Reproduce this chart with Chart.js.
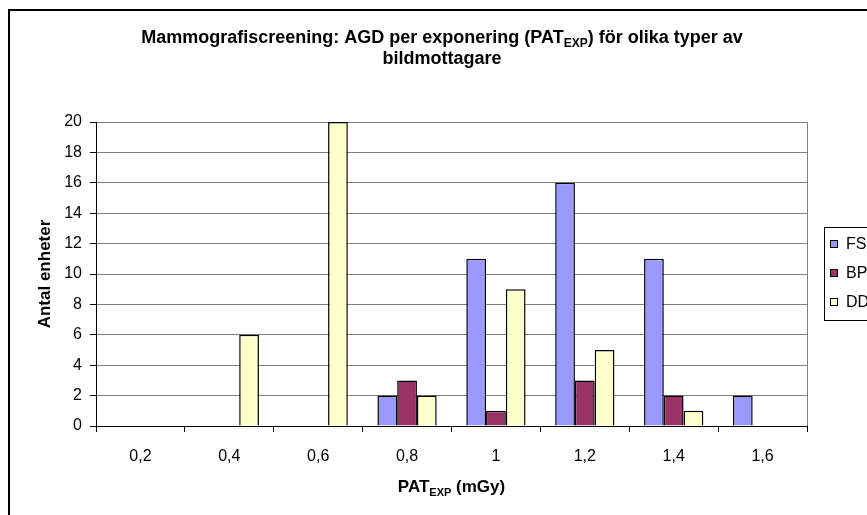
<!DOCTYPE html>
<html>
<head>
<meta charset="utf-8">
<script src="https://cdn.jsdelivr.net/npm/chart.js@4/dist/chart.umd.min.js"></script>
<style>
  html, body { margin: 0; padding: 0; background: #fff; overflow: hidden; }
  #wrap { width: 867px; height: 515px; position: relative; }
</style>
</head>
<body>
<div id="wrap"><canvas id="c" width="867" height="515"></canvas></div>
<script>
// Dose bins (mGy), Swedish decimal comma
const categories = ['0,2', '0,4', '0,6', '0,8', '1', '1,2', '1,4', '1,6'];
// Number of units per image receptor type
const seriesFS = [0, 0, 0, 2, 11, 16, 11, 2];
const seriesBP = [0, 0, 0, 3, 1, 3, 2, 0];
const seriesDD = [0, 6, 20, 2, 9, 5, 1, 0];
const seriesLabels = ['FS', 'BP', 'DD'];
const yTicks = [0, 2, 4, 6, 8, 10, 12, 14, 16, 18, 20];

const FAMILY = "'Liberation Sans', Arial, Helvetica, sans-serif";

// Draw a sequence of text runs (for subscripts), centered at cx
function drawRuns(ctx, runs, cx, y, sx) {
  let total = 0;
  runs.forEach(r => {
    ctx.font = (r.bold ? 'bold ' : '') + r.size + 'px ' + FAMILY;
    r.w = ctx.measureText(r.text).width * sx;
    total += r.w;
  });
  let x = cx - total / 2;
  runs.forEach(r => {
    ctx.save();
    ctx.font = (r.bold ? 'bold ' : '') + r.size + 'px ' + FAMILY;
    ctx.translate(x, y + (r.dy || 0));
    ctx.scale(sx, 1);
    ctx.textAlign = 'left';
    ctx.textBaseline = 'alphabetic';
    ctx.fillStyle = '#000';
    ctx.fillText(r.text, 0, 0);
    ctx.restore();
    x += r.w;
  });
}

const decor = {
  id: 'decor',
  beforeDraw(chart) {
    const ctx = chart.ctx;
    ctx.save();
    ctx.fillStyle = '#fff';
    ctx.fillRect(0, 0, chart.width, chart.height);
    // outer chart frame
    ctx.strokeStyle = '#000';
    ctx.lineWidth = 2;
    ctx.strokeRect(9, 10, 1000, 1000);
    ctx.restore();
  },
  afterDraw(chart) {
    const ctx = chart.ctx;
    const a = chart.chartArea;
    ctx.save();
    // plot area right edge
    ctx.strokeStyle = '#808080';
    ctx.lineWidth = 1;
    ctx.beginPath();
    ctx.moveTo(Math.round(a.right) + 0.5, a.top);
    ctx.lineTo(Math.round(a.right) + 0.5, a.bottom);
    ctx.stroke();

    // title
    const T = 18, S = 12;
    drawRuns(ctx, [
      { text: 'Mammografiscreening: AGD per exponering (PAT', size: T, bold: true },
      { text: 'EXP', size: S, bold: true, dy: 4 },
      { text: ') för olika typer av', size: T, bold: true }
    ], 442, 43, 1);
    drawRuns(ctx, [{ text: 'bildmottagare', size: T, bold: true }], 442, 64, 1);

    // x axis title
    drawRuns(ctx, [
      { text: 'PAT', size: 17, bold: true },
      { text: 'EXP', size: 11, bold: true, dy: 4 },
      { text: ' (mGy)', size: 17, bold: true }
    ], (a.left + a.right) / 2, 492, 1);

    // y axis title
    ctx.save();
    ctx.translate(50, (a.top + a.bottom) / 2);
    ctx.rotate(-Math.PI / 2);
    drawRuns(ctx, [{ text: 'Antal enheter', size: 17, bold: true }], 0, 0, 1);
    ctx.restore();

    // legend
    const lx = 824, ly = 227, lh = 93;
    ctx.fillStyle = '#fff';
    ctx.fillRect(lx, ly, 100, lh);
    ctx.strokeStyle = '#000';
    ctx.lineWidth = 1;
    ctx.strokeRect(lx + 0.5, ly + 0.5, 100, lh);
    chart.data.datasets.forEach((ds, i) => {
      const cy = 244 + i * 29;
      ctx.fillStyle = ds.backgroundColor;
      ctx.fillRect(830, cy - 3.5, 7, 7);
      ctx.strokeStyle = '#000';
      ctx.strokeRect(830.5, cy - 3.5, 7, 7);
      ctx.fillStyle = '#000';
      ctx.font = '16px ' + FAMILY;
      ctx.textBaseline = 'middle';
      ctx.textAlign = 'left';
      ctx.fillText(ds.label, 846, cy + 1);
    });
    ctx.restore();
  }
};

const tickFont = { family: FAMILY, size: 16 };

new Chart(document.getElementById('c'), {
  type: 'bar',
  data: {
    labels: categories,
    datasets: [
      { label: seriesLabels[0], data: seriesFS, backgroundColor: '#9999FF', borderColor: '#000', borderWidth: 1.5 },
      { label: seriesLabels[1], data: seriesBP, backgroundColor: '#993366', borderColor: '#000', borderWidth: 1.5 },
      { label: seriesLabels[2], data: seriesDD, backgroundColor: '#FFFFCC', borderColor: '#000', borderWidth: 1.5 }
    ]
  },
  options: {
    responsive: false,
    animation: false,
    events: [],
    layout: { padding: { left: 10, top: 122, right: 60, bottom: 49 } },
    datasets: { bar: { categoryPercentage: 0.667, barPercentage: 1 } },
    plugins: { legend: { display: false }, title: { display: false }, tooltip: { enabled: false } },
    scales: {
      x: {
        ticks: { font: tickFont, color: '#000', padding: 15, maxRotation: 0 },
        grid: { drawOnChartArea: false, offset: true, tickColor: '#000', tickLength: 6 },
        border: { color: '#000', width: 1 },
        afterFit(s) { s.height = 40; }
      },
      y: {
        min: 0, max: 20,
        afterBuildTicks(s) { s.ticks = yTicks.map(v => ({ value: v })); },
        ticks: { font: tickFont, color: '#000', padding: 8 },
        grid: { color: '#808080', tickColor: '#000', tickLength: 6, lineWidth: 1 },
        border: { color: '#000', width: 1 },
        afterFit(s) { s.width = 86; }
      }
    }
  },
  plugins: [decor]
});
</script>
</body>
</html>
